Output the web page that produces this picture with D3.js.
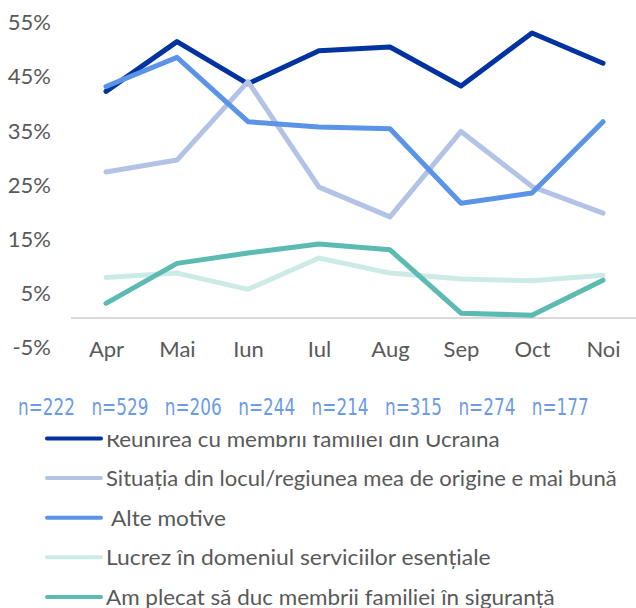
<!DOCTYPE html>
<html>
<head>
<meta charset="utf-8">
<script src="https://cdn.jsdelivr.net/npm/d3@7"></script>
<style>
  body { margin: 0; background: #ffffff; }
  text { font-family: Lato, "DejaVu Sans", sans-serif; fill: #595959; }
</style>
</head>
<body>
<svg id="chart-svg"></svg>
<script>
const width = 636, height = 608;

// data (percent)
const months = ["Apr", "Mai", "Iun", "Iul", "Aug", "Sep", "Oct", "Noi"];
const sample_sizes = ["n=222", "n=529", "n=206", "n=244", "n=214", "n=315", "n=274", "n=177"];
const y_ticks = [-5, 5, 15, 25, 35, 45, 55];

const reunirea = [41.8, 51.0, 43.2, 49.3, 50.0, 42.8, 52.6, 47.0];
const situatia = [26.9, 29.1, 43.6, 24.1, 18.6, 34.4, 24.2, 19.3];
const alte_motive = [42.7, 48.1, 36.2, 35.2, 34.9, 21.1, 23.0, 36.2];
const servicii = [7.4, 8.2, 5.2, 11.0, 8.2, 7.1, 6.8, 7.8];
const siguranta = [2.6, 10.0, 11.9, 13.6, 12.5, 0.8, 0.4, 6.9];

const series_names = [
    "Reunirea cu membrii familiei din Ucraina",
    "Situația din locul/regiunea mea de origine e mai bună",
    " Alte motive",
    "Lucrez în domeniul serviciilor esențiale",
    "Am plecat să duc membrii familiei în siguranță"
];
const series_colors = ["#0033a0", "#b3c3e5", "#5b93e6", "#cdebe6", "#5bbab1"];
const series_values = [reunirea, situatia, alte_motive, servicii, siguranta];

// measured widths of the texts in the original (it uses a narrow font)
const legend_widths = [394, 511, 120, 385, 449];
const sample_width = 57;

const svg = d3.select("#chart-svg")
    .attr("width", width)
    .attr("height", height);

// squeeze a text horizontally so it takes the given width
function squeeze_text(sel, target, x0, y0) {
    sel.each(function(d, i) {
        const w = this.getComputedTextLength();
        const k = w > 0 ? target(d, i) / w : 1;
        d3.select(this)
            .attr("transform", "translate(" + x0(d, i) + "," + y0(d, i) + ") scale(" + k + ",1)");
    });
}

// scales
const x = d3.scalePoint()
    .domain(months)
    .range([70.5, 638.5])
    .padding(0.5);

const y = d3.scaleLinear()
    .domain([-5, 55])
    .range([344.5, 20]);

// y labels only, no line
const y_axis = svg.append("g")
    .attr("transform", "translate(51,0)")
    .call(d3.axisLeft(y)
        .tickValues(y_ticks)
        .tickFormat(d => d + "%")
        .tickSize(0)
        .tickPadding(0));
y_axis.select(".domain").remove();
y_axis.selectAll("text")
    .attr("dy", "0.45em")
    .style("font-family", "Lato, sans-serif")
    .style("font-size", "22px")
    .attr("fill", "#595959");

// x axis sits on the 0% line
const x_axis = svg.append("g")
    .attr("transform", "translate(0," + y(0) + ")")
    .call(d3.axisBottom(x)
        .tickSize(0)
        .tickSizeOuter(0)
        .tickPadding(24));
x_axis.select(".domain")
    .attr("stroke", "#d9d9d9")
    .attr("stroke-width", 2);
x_axis.selectAll("text")
    .style("font-family", "Lato, sans-serif")
    .style("font-size", "22px")
    .attr("fill", "#595959");

// the lines
const line = d3.line()
    .x((d, i) => x(months[i]))
    .y(d => y(d));

svg.append("g")
    .attr("class", "lines")
    .selectAll("path")
    .data(series_values)
    .join("path")
    .attr("d", line)
    .attr("fill", "none")
    .attr("stroke", (d, i) => series_colors[i])
    .attr("stroke-width", 5)
    .attr("stroke-linejoin", "round")
    .attr("stroke-linecap", "round");

// sample sizes row
svg.append("g")
    .selectAll("text")
    .data(sample_sizes)
    .join("text")
    .style("font-family", "'DejaVu Sans', sans-serif")
    .style("font-size", "23px")
    .style("fill", "#6b9be8")
    .text(d => d)
    .call(squeeze_text, () => sample_width, (d, i) => 18 + i * 73.4, () => 415);

// legend, top row is cut off like in the original
svg.append("clipPath")
    .attr("id", "legend-clip")
    .append("rect")
    .attr("x", 0)
    .attr("y", 435)
    .attr("width", width)
    .attr("height", height - 435);

const legend = svg.append("g")
    .attr("clip-path", "url(#legend-clip)");

const legend_rows = legend.selectAll("g")
    .data(series_names)
    .join("g")
    .attr("transform", (d, i) => "translate(0," + (438.5 + i * 39.6) + ")");

legend_rows.append("line")
    .attr("x1", 47)
    .attr("x2", 101)
    .attr("stroke", (d, i) => series_colors[i])
    .attr("stroke-width", 4)
    .attr("stroke-linecap", "round");

legend_rows.append("text")
    .style("font-size", "21.5px")
    .style("white-space", "pre")
    .text(d => d)
    .call(squeeze_text, (d, i) => legend_widths[i], () => 106, () => 8);
</script>
</body>
</html>
